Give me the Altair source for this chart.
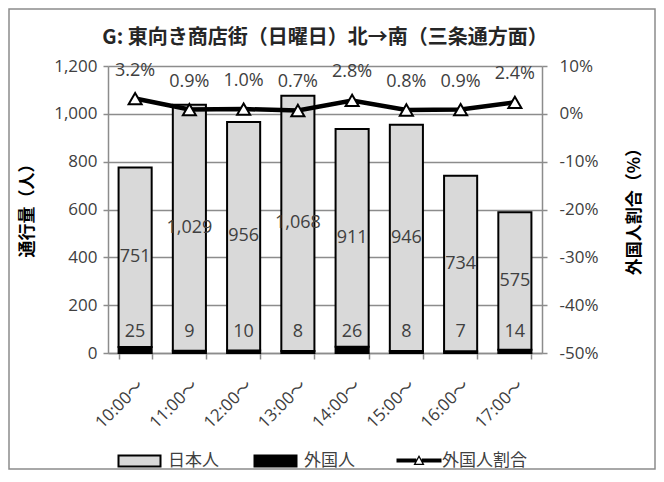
import altair as alt
import pandas as pd

# ---------------- data ----------------
times = ["10:00～", "11:00～", "12:00～", "13:00～", "14:00～", "15:00～", "16:00～", "17:00～"]
japanese = [751, 1029, 956, 1068, 911, 946, 734, 575]
foreign = [25, 9, 10, 8, 26, 8, 7, 14]
foreign_pct = [3.2, 0.9, 1.0, 0.7, 2.8, 0.8, 0.9, 2.4]
bar_series = ["日本人", "外国人"]
line_series = "外国人割合"
left_ticks = [0, 200, 400, 600, 800, 1000, 1200]
right_ticks = [-50, -40, -30, -20, -10, 0, 10]
title_text = "G: 東向き商店街（日曜日）北→南（三条通方面）"
left_title = "通行量（人）"
right_title = "外国人割合（%）"

rows = []
for t, j, f in zip(times, japanese, foreign):
    rows.append(dict(time=t, series=bar_series[1], value=f, order=0))
    rows.append(dict(time=t, series=bar_series[0], value=j, order=1))
bars_df = pd.DataFrame(rows)
wide_df = pd.DataFrame(dict(time=times, jp=japanese, fr=foreign, pct=foreign_pct, line=line_series))

# ---------------- style ----------------
W, H = 434, 287
NUM_FONT = "Open Sans, Noto Sans CJK JP"
JP_FONT = "Noto Sans CJK JP"
GRID = "#8c8c8c"
TXT = "#404040"

x_enc = alt.X(
    "time:N",
    scale=alt.Scale(domain=times, paddingInner=0.39, paddingOuter=0.195),
    axis=alt.Axis(
        title=None, labelAngle=315, labelFont=NUM_FONT, labelFontSize=17, labelColor=TXT,
        tickBand="extent", tickSize=6, tickColor=GRID, tickWidth=1.5,
        domainColor=GRID, domainWidth=1.5, labelPadding=18,
    ),
)

y_scale_left = alt.Scale(domain=[0, 1200], nice=False)
y_scale_right = alt.Scale(domain=[-50, 10], nice=False)

bar_path = "M-1,-0.92H6V0.92H-1Z"
line_path = ("M-1,-0.33H2.3V0.33H-1Z M3.2,-0.33H6.5V0.33H3.2Z "
             "M1.83,0.75L2.75,-0.92L3.67,0.75Z M2.2,0.53L3.3,0.53L2.75,-0.48Z")

LEG_Y = 386

bars = alt.Chart(bars_df).mark_bar(stroke="black", strokeWidth=2).encode(
    x=x_enc,
    y=alt.Y(
        "value:Q", stack="zero", scale=y_scale_left,
        axis=alt.Axis(
            values=left_ticks, labelExpr="format(datum.value, ',.0f')", grid=True,
            gridColor=GRID, gridWidth=1.5,
            tickSize=5, tickColor=GRID, tickWidth=1.5, domainColor=GRID, domainWidth=1.5,
            labelFont=NUM_FONT, labelFontSize=17, labelColor=TXT, labelPadding=6,
            title=left_title, titleFont=JP_FONT, titleFontSize=17, titleFontWeight="bold",
            titleColor="black", titleAngle=270, titleX=-81, titleY=140,
            titleAlign="center", titleBaseline="middle",
        ),
    ),
    fill=alt.Fill(
        "series:N",
        scale=alt.Scale(domain=bar_series, range=["#d9d9d9", "#000000"]),
        legend=alt.Legend(
            title=None, orient="none", legendX=8, legendY=LEG_Y, direction="horizontal",
            symbolType=bar_path, symbolSize=144, symbolStrokeColor="black", symbolStrokeWidth=2,
            labelFont=JP_FONT, labelFontSize=17, labelColor=TXT, labelOffset=35,
            columnPadding=31,
        ),
    ),
    order=alt.Order("order:Q", sort="ascending"),
)

jp_labels = alt.Chart(wide_df).transform_calculate(
    mid="datum.fr + datum.jp / 2"
).mark_text(font=NUM_FONT, fontSize=18, color=TXT, baseline="middle").encode(
    x=x_enc,
    y=alt.Y("mid:Q", scale=y_scale_left),
    text=alt.Text("jp:Q", format=",.0f"),
)

fr_labels = alt.Chart(wide_df).mark_text(
    font=NUM_FONT, fontSize=18, color=TXT, baseline="middle", dy=-21
).encode(
    x=x_enc,
    y=alt.datum(0),
    text=alt.Text("fr:Q"),
)

frame = alt.Chart(pd.DataFrame({"k": [0]})).mark_rect(
    fill="transparent", stroke="#8c8c8c", strokeWidth=1.5
).encode(
    x=alt.value(-99), x2=alt.value(547), y=alt.value(-57), y2=alt.value(403)
)

left = alt.layer(frame, bars, jp_labels, fr_labels)

line = alt.Chart(wide_df).mark_line(strokeWidth=4.5).encode(
    x=x_enc,
    y=alt.Y(
        "pct:Q", scale=y_scale_right,
        axis=alt.Axis(
            orient="right", values=right_ticks, labelExpr="datum.value + '%'", grid=False,
            tickSize=5, tickColor=GRID, tickWidth=1.5, domainColor=GRID, domainWidth=1.5,
            labelFont=NUM_FONT, labelFontSize=17, labelColor=TXT, labelPadding=12,
            title=right_title, titleFont=JP_FONT, titleFontSize=17, titleFontWeight="bold",
            titleColor="black", titleAngle=270, titleX=92, titleY=141,
            titleAlign="center", titleBaseline="middle",
        ),
    ),
    stroke=alt.Stroke(
        "line:N",
        scale=alt.Scale(domain=[line_series], range=["black"]),
        legend=alt.Legend(
            title=None, orient="none", legendX=286, legendY=LEG_Y,
            symbolType=line_path, symbolSize=144, symbolFillColor="black",
            symbolStrokeWidth=0, labelFont=JP_FONT, labelFontSize=17, labelColor=TXT,
            labelOffset=31,
        ),
    ),
)

points = alt.Chart(wide_df).mark_point(
    shape="triangle-up", size=170, filled=True, fill="white", stroke="black",
    strokeWidth=2, opacity=1
).encode(
    x=x_enc,
    y=alt.Y("pct:Q", scale=y_scale_right),
)

pct_labels = alt.Chart(wide_df).transform_calculate(
    lab="format(datum.pct, '.1f') + '%'"
).mark_text(font=NUM_FONT, fontSize=18, color=TXT, baseline="middle", dy=-28).encode(
    x=x_enc,
    y=alt.Y("pct:Q", scale=y_scale_right),
    text="lab:N",
)

right = alt.layer(line, points, pct_labels)

chart = alt.layer(left, right).resolve_scale(y="independent").properties(
    width=W, height=H,
    padding={"left": 100, "top": 58, "right": 114, "bottom": 117},
    autosize=alt.AutoSizeParams(type="none"),
    title=alt.TitleParams(
        text=title_text, font=JP_FONT, fontSize=20, fontWeight="bold", color="#262626",
        anchor="middle", offset=0, dy=40,
    ),
).configure_view(strokeWidth=0)

chart.save("out.html", embed_options={"renderer": "svg", "actions": False})
